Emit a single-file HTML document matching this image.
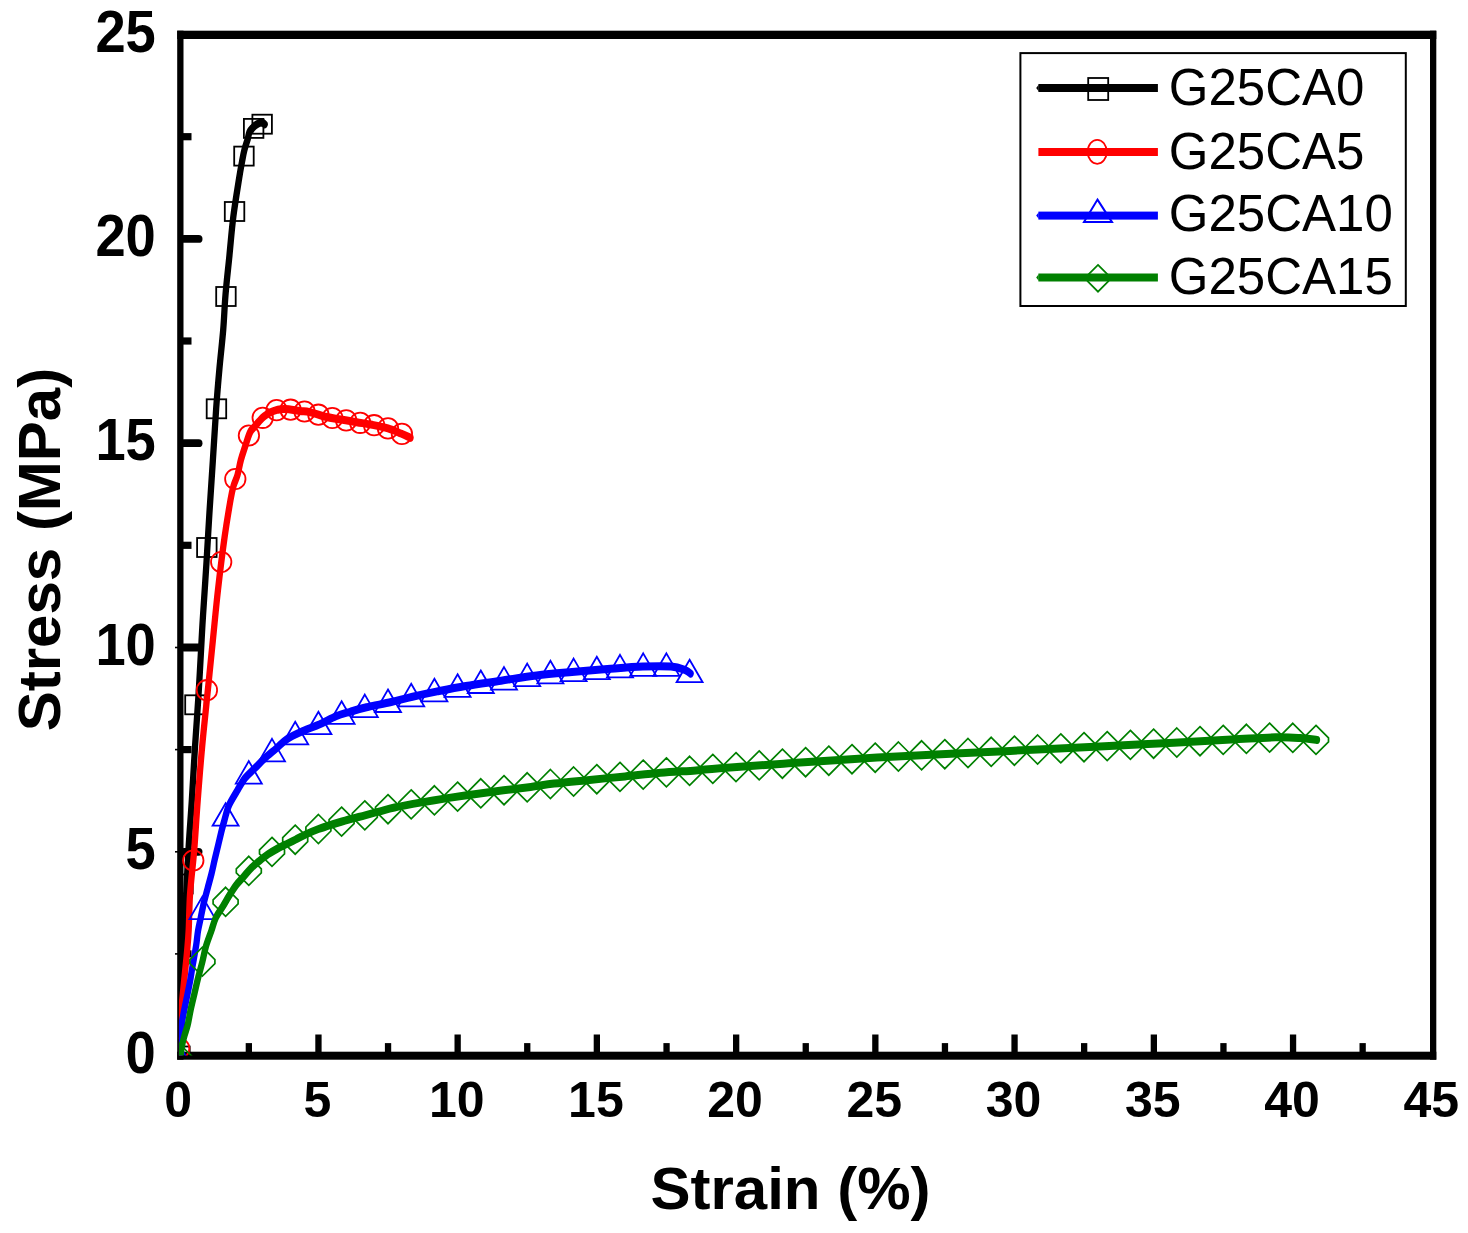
<!DOCTYPE html>
<html><head><meta charset="utf-8"><style>
html,body{margin:0;padding:0;background:#fff;width:1468px;height:1233px;overflow:hidden}
svg{display:block}
text{font-family:"Liberation Sans",sans-serif}
</style></head><body>
<svg width="1468" height="1233" viewBox="0 0 1468 1233">
<rect width="1468" height="1233" fill="#fff"/>
<defs><clipPath id="pc"><rect x="178.9" y="35" width="1254" height="1020.5"/></clipPath></defs>

<rect x="177.2" y="30.7" width="6.3" height="1029.0" fill="#000"/>
<rect x="1430.0" y="30.7" width="6.3" height="1029.0" fill="#000"/>
<rect x="177.2" y="30.7" width="1259.1" height="8.3" fill="#000"/>
<rect x="177.2" y="1051.7" width="1259.1" height="8" fill="#000"/>
<rect x="183" y="950.3" width="8.5" height="7.2" fill="#000"/>
<rect x="175" y="953.1" width="3" height="1.6" fill="#000"/>
<line x1="184" y1="851.8" x2="198.6" y2="851.8" stroke="#000" stroke-width="7.8" stroke-linecap="round"/>
<rect x="175" y="851.0" width="3" height="1.6" fill="#000"/>
<rect x="183" y="746.0" width="8.5" height="7.2" fill="#000"/>
<rect x="175" y="748.8" width="3" height="1.6" fill="#000"/>
<line x1="184" y1="647.5" x2="198.6" y2="647.5" stroke="#000" stroke-width="7.8" stroke-linecap="round"/>
<rect x="175" y="646.7" width="3" height="1.6" fill="#000"/>
<rect x="183" y="541.7" width="8.5" height="7.2" fill="#000"/>
<line x1="184" y1="443.2" x2="198.6" y2="443.2" stroke="#000" stroke-width="7.8" stroke-linecap="round"/>
<rect x="183" y="337.4" width="8.5" height="7.2" fill="#000"/>
<line x1="184" y1="238.9" x2="198.6" y2="238.9" stroke="#000" stroke-width="7.8" stroke-linecap="round"/>
<rect x="183" y="133.1" width="8.5" height="7.2" fill="#000"/>
<rect x="245.7" y="1043.1" width="6.3" height="9.6" fill="#000"/>
<rect x="315.3" y="1034.5" width="6.3" height="18.2" fill="#000"/>
<rect x="384.9" y="1043.1" width="6.3" height="9.6" fill="#000"/>
<rect x="454.5" y="1034.5" width="6.3" height="18.2" fill="#000"/>
<rect x="524.1" y="1043.1" width="6.3" height="9.6" fill="#000"/>
<rect x="593.7" y="1034.5" width="6.3" height="18.2" fill="#000"/>
<rect x="663.4" y="1043.1" width="6.3" height="9.6" fill="#000"/>
<rect x="733.0" y="1034.5" width="6.3" height="18.2" fill="#000"/>
<rect x="802.6" y="1043.1" width="6.3" height="9.6" fill="#000"/>
<rect x="872.2" y="1034.5" width="6.3" height="18.2" fill="#000"/>
<rect x="941.8" y="1043.1" width="6.3" height="9.6" fill="#000"/>
<rect x="1011.4" y="1034.5" width="6.3" height="18.2" fill="#000"/>
<rect x="1081.0" y="1043.1" width="6.3" height="9.6" fill="#000"/>
<rect x="1150.7" y="1034.5" width="6.3" height="18.2" fill="#000"/>
<rect x="1220.3" y="1043.1" width="6.3" height="9.6" fill="#000"/>
<rect x="1289.9" y="1034.5" width="6.3" height="18.2" fill="#000"/>
<rect x="1359.5" y="1043.1" width="6.3" height="9.6" fill="#000"/>
<text transform="translate(155.8,1073.2) scale(0.97,1.058)" font-size="56" font-weight="bold" text-anchor="end">0</text>
<text transform="translate(155.8,868.9) scale(0.97,1.058)" font-size="56" font-weight="bold" text-anchor="end">5</text>
<text transform="translate(155.8,664.6) scale(0.97,1.058)" font-size="56" font-weight="bold" text-anchor="end">10</text>
<text transform="translate(155.8,460.3) scale(0.97,1.058)" font-size="56" font-weight="bold" text-anchor="end">15</text>
<text transform="translate(155.8,256.0) scale(0.97,1.058)" font-size="56" font-weight="bold" text-anchor="end">20</text>
<text transform="translate(155.8,51.7) scale(0.97,1.058)" font-size="56" font-weight="bold" text-anchor="end">25</text>
<text x="178.2" y="1117" font-size="50" font-weight="bold" text-anchor="middle">0</text>
<text x="317.4" y="1117" font-size="50" font-weight="bold" text-anchor="middle">5</text>
<text x="456.7" y="1117" font-size="50" font-weight="bold" text-anchor="middle">10</text>
<text x="595.9" y="1117" font-size="50" font-weight="bold" text-anchor="middle">15</text>
<text x="735.1" y="1117" font-size="50" font-weight="bold" text-anchor="middle">20</text>
<text x="874.3" y="1117" font-size="50" font-weight="bold" text-anchor="middle">25</text>
<text x="1013.6" y="1117" font-size="50" font-weight="bold" text-anchor="middle">30</text>
<text x="1152.8" y="1117" font-size="50" font-weight="bold" text-anchor="middle">35</text>
<text x="1292.0" y="1117" font-size="50" font-weight="bold" text-anchor="middle">40</text>
<text x="1431.3" y="1117" font-size="50" font-weight="bold" text-anchor="middle">45</text>
<text x="790.5" y="1209" font-size="60" font-weight="bold" text-anchor="middle">Strain (%)</text>
<text transform="translate(60,549.5) rotate(-90)" x="0" y="0" font-size="60" font-weight="bold" text-anchor="middle">Stress (MPa)</text>
<g clip-path="url(#pc)">
<g transform="scale(1,1.26984)"><path d="M180.00,831.60 C180.50,824.25 182.00,807.98 183.00,787.50 C184.00,767.02 185.04,729.04 186.00,708.75 C186.96,688.46 187.78,678.79 188.75,665.75 C189.72,652.72 190.76,643.47 191.80,630.55 C192.84,617.64 193.87,602.32 195.00,588.26 C196.13,574.21 197.50,560.25 198.60,546.21 C199.70,532.17 200.87,514.22 201.60,504.00 C202.33,493.78 202.20,494.87 203.00,484.86 C203.80,474.86 205.32,457.63 206.40,443.99 C207.48,430.36 208.42,416.68 209.50,403.04 C210.58,389.41 211.78,375.79 212.90,362.17 C214.02,348.55 215.12,333.23 216.20,321.30 C217.28,309.37 218.23,300.83 219.40,290.59 C220.57,280.35 222.18,269.61 223.20,259.88 C224.22,250.14 224.47,241.88 225.50,232.16 C226.53,222.43 228.10,211.75 229.40,201.52 C230.70,191.30 231.67,181.05 233.30,170.81 C234.93,160.57 237.75,147.33 239.20,140.10 C240.65,132.86 241.15,131.03 242.00,127.42 C242.85,123.81 243.35,121.42 244.30,118.44 C245.25,115.46 246.85,111.93 247.70,109.54 C248.55,107.15 248.55,105.60 249.40,104.11 C250.25,102.61 251.57,101.60 252.80,100.56 C254.03,99.53 255.28,98.56 256.80,97.89 C258.32,97.22 260.58,96.55 261.90,96.55 C263.22,96.55 264.23,97.66 264.70,97.89" fill="none" stroke="#000" stroke-width="6.3" stroke-linejoin="round" stroke-linecap="round"/></g>
<rect x="252.4" y="114.7" width="19.5" height="19" fill="none" stroke="#000" stroke-width="1.8"/>
<rect x="243.9" y="118.9" width="19.5" height="19" fill="none" stroke="#000" stroke-width="1.8"/>
<rect x="234.2" y="146.6" width="19.5" height="19" fill="none" stroke="#000" stroke-width="1.8"/>
<rect x="224.8" y="202.0" width="19.5" height="19" fill="none" stroke="#000" stroke-width="1.8"/>
<rect x="216.2" y="287.0" width="19.5" height="19" fill="none" stroke="#000" stroke-width="1.8"/>
<rect x="206.7" y="399.3" width="19.5" height="19" fill="none" stroke="#000" stroke-width="1.8"/>
<rect x="197.1" y="538.0" width="19.5" height="19" fill="none" stroke="#000" stroke-width="1.8"/>
<rect x="185.2" y="695.3" width="19.5" height="19" fill="none" stroke="#000" stroke-width="1.8"/>
<rect x="173.2" y="874.5" width="19.5" height="19" fill="none" stroke="#000" stroke-width="1.8"/>
<rect x="170.2" y="1046.5" width="19.5" height="19" fill="none" stroke="#000" stroke-width="1.8"/>
<g transform="scale(1,1.26984)"><path d="M179.00,833.18 C179.12,828.83 179.32,813.53 179.70,807.11 C180.08,800.69 180.68,799.51 181.30,794.67 C181.92,789.82 182.78,782.89 183.40,778.05 C184.02,773.21 184.38,770.45 185.00,765.61 C185.62,760.76 186.48,754.53 187.10,748.99 C187.72,743.45 188.22,739.76 188.70,732.38 C189.18,724.99 189.23,713.84 190.00,704.65 C190.77,695.47 192.53,683.73 193.30,677.25 C194.07,670.77 193.87,673.54 194.60,665.75 C195.33,657.97 196.45,643.47 197.70,630.55 C198.95,617.64 200.47,602.32 202.10,588.26 C203.73,574.21 205.70,560.25 207.50,546.21 C209.30,532.17 211.15,517.64 212.90,504.00 C214.65,490.36 216.07,477.80 218.00,464.39 C219.93,450.98 222.42,435.29 224.50,423.52 C226.58,411.74 229.00,400.55 230.50,393.75 C232.00,386.95 232.33,386.01 233.50,382.73 C234.67,379.44 236.27,377.49 237.50,374.06 C238.73,370.64 239.65,365.86 240.90,362.17 C242.15,358.48 243.50,355.52 245.00,351.93 C246.50,348.35 248.33,343.31 249.90,340.67 C251.47,338.03 252.90,337.55 254.40,336.11 C255.90,334.66 257.28,333.38 258.90,332.01 C260.52,330.65 262.25,329.11 264.10,327.92 C265.95,326.72 267.83,325.70 270.00,324.84 C272.17,323.99 274.62,323.26 277.10,322.80 C279.58,322.34 281.08,321.96 284.90,322.09 C288.72,322.22 295.87,323.18 300.00,323.58 C304.13,323.99 305.48,323.75 309.70,324.53 C313.92,325.30 320.08,327.26 325.30,328.23 C330.52,329.20 335.77,329.65 341.00,330.36 C346.23,331.07 351.48,331.79 356.70,332.48 C361.92,333.18 367.08,333.72 372.30,334.53 C377.52,335.34 383.22,336.22 388.00,337.37 C392.78,338.51 397.25,340.15 401.00,341.38 C404.75,342.62 408.92,344.20 410.50,344.77" fill="none" stroke="#f00" stroke-width="6.3" stroke-linejoin="round" stroke-linecap="round"/></g>
<ellipse cx="179.2" cy="1048.5" rx="10.2" ry="10.2" fill="none" stroke="#f00" stroke-width="1.8"/>
<ellipse cx="193.3" cy="860.5" rx="10.2" ry="10.2" fill="none" stroke="#f00" stroke-width="1.8"/>
<ellipse cx="206.9" cy="690.2" rx="10.2" ry="10.2" fill="none" stroke="#f00" stroke-width="1.8"/>
<ellipse cx="221.2" cy="562.0" rx="10.2" ry="10.2" fill="none" stroke="#f00" stroke-width="1.8"/>
<ellipse cx="235.3" cy="479.0" rx="10.2" ry="10.2" fill="none" stroke="#f00" stroke-width="1.8"/>
<ellipse cx="248.9" cy="435.5" rx="10.2" ry="10.2" fill="none" stroke="#f00" stroke-width="1.8"/>
<ellipse cx="262.7" cy="417.8" rx="10.2" ry="10.2" fill="none" stroke="#f00" stroke-width="1.8"/>
<ellipse cx="276.6" cy="410.1" rx="10.2" ry="10.2" fill="none" stroke="#f00" stroke-width="1.8"/>
<ellipse cx="290.6" cy="409.7" rx="10.2" ry="10.2" fill="none" stroke="#f00" stroke-width="1.8"/>
<ellipse cx="304.5" cy="411.5" rx="10.2" ry="10.2" fill="none" stroke="#f00" stroke-width="1.8"/>
<ellipse cx="318.4" cy="414.7" rx="10.2" ry="10.2" fill="none" stroke="#f00" stroke-width="1.8"/>
<ellipse cx="332.3" cy="418.0" rx="10.2" ry="10.2" fill="none" stroke="#f00" stroke-width="1.8"/>
<ellipse cx="346.2" cy="420.4" rx="10.2" ry="10.2" fill="none" stroke="#f00" stroke-width="1.8"/>
<ellipse cx="360.2" cy="422.8" rx="10.2" ry="10.2" fill="none" stroke="#f00" stroke-width="1.8"/>
<ellipse cx="374.1" cy="425.2" rx="10.2" ry="10.2" fill="none" stroke="#f00" stroke-width="1.8"/>
<ellipse cx="388.0" cy="428.4" rx="10.2" ry="10.2" fill="none" stroke="#f00" stroke-width="1.8"/>
<ellipse cx="401.9" cy="433.9" rx="10.2" ry="10.2" fill="none" stroke="#f00" stroke-width="1.8"/>
<g transform="scale(1,1.26984)"><path d="M179.50,833.18 C179.72,829.53 180.15,817.00 180.80,811.28 C181.45,805.56 182.43,802.99 183.40,798.84 C184.37,794.69 185.53,790.56 186.60,786.40 C187.67,782.24 188.83,778.04 189.80,773.88 C190.77,769.72 191.35,766.28 192.40,761.43 C193.45,756.59 195.17,749.53 196.10,744.82 C197.03,740.11 197.22,736.88 198.00,733.16 C198.78,729.45 199.83,726.21 200.80,722.53 C201.77,718.86 202.67,714.93 203.80,711.11 C204.93,707.29 206.32,703.45 207.60,699.62 C208.88,695.78 210.30,691.95 211.50,688.12 C212.70,684.28 213.67,680.45 214.80,676.62 C215.93,672.79 217.13,668.96 218.30,665.12 C219.47,661.29 220.77,656.85 221.80,653.62 C222.83,650.40 223.32,648.97 224.50,645.75 C225.68,642.53 226.80,638.15 228.90,634.33 C231.00,630.51 234.38,626.46 237.10,622.83 C239.82,619.21 242.23,615.58 245.20,612.60 C248.17,609.62 251.67,607.52 254.90,604.96 C258.13,602.40 261.08,599.80 264.60,597.24 C268.12,594.68 272.20,592.16 276.00,589.60 C279.80,587.04 282.80,584.23 287.40,581.88 C292.00,579.53 298.20,577.42 303.60,575.50 C309.00,573.59 314.40,572.29 319.80,570.39 C325.20,568.48 330.97,565.73 336.00,564.09 C341.03,562.45 344.92,561.72 350.00,560.54 C355.08,559.36 359.62,558.28 366.50,557.00 C373.38,555.71 383.63,554.22 391.30,552.83 C398.97,551.43 404.83,550.04 412.50,548.65 C420.17,547.26 428.43,545.88 437.30,544.48 C446.17,543.07 455.07,541.63 465.70,540.23 C476.33,538.82 489.30,537.44 501.10,536.05 C512.90,534.66 524.68,533.03 536.50,531.88 C548.32,530.72 560.18,529.96 572.00,529.12 C583.82,528.28 595.60,527.53 607.40,526.84 C619.20,526.14 632.18,525.26 642.80,524.95 C653.42,524.63 664.02,524.49 671.10,524.95 C678.18,525.41 682.05,526.78 685.30,527.70 C688.55,528.62 689.72,530.00 690.60,530.46" fill="none" stroke="#00f" stroke-width="6.3" stroke-linejoin="round" stroke-linecap="round"/></g>
<path d="M179.2,1044.8 L192.2,1067.3 L166.2,1067.3 Z" fill="none" stroke="#00f" stroke-width="1.8" stroke-linejoin="miter"/>
<path d="M202.4,896.6 L215.4,919.1 L189.4,919.1 Z" fill="none" stroke="#00f" stroke-width="1.8" stroke-linejoin="miter"/>
<path d="M225.6,803.2 L238.6,825.7 L212.6,825.7 Z" fill="none" stroke="#00f" stroke-width="1.8" stroke-linejoin="miter"/>
<path d="M248.8,761.1 L261.8,783.6 L235.8,783.6 Z" fill="none" stroke="#00f" stroke-width="1.8" stroke-linejoin="miter"/>
<path d="M272.0,738.9 L285.0,761.4 L259.0,761.4 Z" fill="none" stroke="#00f" stroke-width="1.8" stroke-linejoin="miter"/>
<path d="M295.2,721.8 L308.2,744.3 L282.2,744.3 Z" fill="none" stroke="#00f" stroke-width="1.8" stroke-linejoin="miter"/>
<path d="M318.4,711.7 L331.4,734.2 L305.4,734.2 Z" fill="none" stroke="#00f" stroke-width="1.8" stroke-linejoin="miter"/>
<path d="M341.6,701.3 L354.6,723.8 L328.6,723.8 Z" fill="none" stroke="#00f" stroke-width="1.8" stroke-linejoin="miter"/>
<path d="M364.8,694.6 L377.8,717.1 L351.8,717.1 Z" fill="none" stroke="#00f" stroke-width="1.8" stroke-linejoin="miter"/>
<path d="M388.0,689.5 L401.0,712.0 L375.0,712.0 Z" fill="none" stroke="#00f" stroke-width="1.8" stroke-linejoin="miter"/>
<path d="M411.2,683.8 L424.2,706.3 L398.2,706.3 Z" fill="none" stroke="#00f" stroke-width="1.8" stroke-linejoin="miter"/>
<path d="M434.4,678.8 L447.4,701.3 L421.4,701.3 Z" fill="none" stroke="#00f" stroke-width="1.8" stroke-linejoin="miter"/>
<path d="M457.6,674.3 L470.6,696.8 L444.6,696.8 Z" fill="none" stroke="#00f" stroke-width="1.8" stroke-linejoin="miter"/>
<path d="M480.8,670.5 L493.8,693.0 L467.8,693.0 Z" fill="none" stroke="#00f" stroke-width="1.8" stroke-linejoin="miter"/>
<path d="M504.0,667.1 L517.0,689.6 L491.0,689.6 Z" fill="none" stroke="#00f" stroke-width="1.8" stroke-linejoin="miter"/>
<path d="M527.2,663.6 L540.2,686.1 L514.2,686.1 Z" fill="none" stroke="#00f" stroke-width="1.8" stroke-linejoin="miter"/>
<path d="M550.4,660.8 L563.4,683.3 L537.4,683.3 Z" fill="none" stroke="#00f" stroke-width="1.8" stroke-linejoin="miter"/>
<path d="M573.6,658.6 L586.6,681.1 L560.6,681.1 Z" fill="none" stroke="#00f" stroke-width="1.8" stroke-linejoin="miter"/>
<path d="M596.8,656.7 L609.8,679.2 L583.8,679.2 Z" fill="none" stroke="#00f" stroke-width="1.8" stroke-linejoin="miter"/>
<path d="M620.0,654.9 L633.0,677.4 L607.0,677.4 Z" fill="none" stroke="#00f" stroke-width="1.8" stroke-linejoin="miter"/>
<path d="M643.2,653.4 L656.2,675.9 L630.2,675.9 Z" fill="none" stroke="#00f" stroke-width="1.8" stroke-linejoin="miter"/>
<path d="M666.4,653.4 L679.4,675.9 L653.4,675.9 Z" fill="none" stroke="#00f" stroke-width="1.8" stroke-linejoin="miter"/>
<path d="M689.6,659.7 L702.6,682.2 L676.6,682.2 Z" fill="none" stroke="#00f" stroke-width="1.8" stroke-linejoin="miter"/>
<g transform="scale(1,1.26984)"><path d="M180.30,833.18 C180.38,832.72 180.53,831.99 180.80,830.42 C181.07,828.84 181.28,826.22 181.90,823.73 C182.52,821.23 183.53,818.23 184.50,815.46 C185.47,812.69 186.65,810.57 187.70,807.11 C188.75,803.64 189.67,798.81 190.80,794.67 C191.93,790.52 193.27,786.37 194.50,782.22 C195.73,778.08 196.88,773.94 198.20,769.78 C199.52,765.62 201.10,761.37 202.40,757.26 C203.70,753.15 204.52,749.15 206.00,745.13 C207.48,741.12 209.65,736.93 211.30,733.16 C212.95,729.40 213.92,725.83 215.90,722.53 C217.88,719.24 221.02,716.21 223.20,713.40 C225.38,710.59 226.88,708.37 229.00,705.68 C231.12,702.99 233.47,699.80 235.90,697.25 C238.33,694.71 241.02,692.70 243.60,690.40 C246.18,688.10 248.80,685.52 251.40,683.47 C254.00,681.42 256.43,679.90 259.20,678.12 C261.97,676.33 264.92,674.41 268.00,672.76 C271.08,671.11 274.47,669.60 277.70,668.19 C280.93,666.79 284.43,665.50 287.40,664.34 C290.37,663.17 292.80,662.25 295.50,661.19 C298.20,660.12 299.77,659.35 303.60,657.96 C307.43,656.57 312.10,654.68 318.50,652.84 C324.90,651.00 334.25,648.73 342.00,646.93 C349.75,645.13 358.67,643.39 365.00,642.05 C371.33,640.71 375.08,639.92 380.00,638.90 C384.92,637.88 387.55,637.07 394.50,635.91 C401.45,634.74 412.62,633.15 421.70,631.89 C430.78,630.63 439.92,629.46 449.00,628.35 C458.08,627.23 467.12,626.19 476.20,625.20 C485.28,624.20 494.42,623.28 503.50,622.36 C512.58,621.44 522.25,620.58 530.70,619.68 C539.15,618.79 544.38,617.93 554.20,617.01 C564.02,616.09 577.78,615.10 589.60,614.17 C601.42,613.24 613.28,612.35 625.10,611.41 C636.92,610.48 648.70,609.37 660.50,608.58 C672.30,607.79 685.98,607.29 695.90,606.69 C705.82,606.09 704.55,605.89 720.00,604.96 C735.45,604.03 762.42,602.49 788.60,601.10 C814.78,599.71 847.58,597.95 877.10,596.61 C906.62,595.27 936.18,594.23 965.70,593.07 C995.22,591.90 1024.68,590.76 1054.20,589.60 C1083.72,588.45 1113.28,587.34 1142.80,586.14 C1172.32,584.93 1209.17,583.28 1231.30,582.36 C1253.43,581.44 1264.15,580.82 1275.60,580.62 C1287.05,580.43 1293.10,580.82 1300.00,581.18 C1306.90,581.53 1314.17,582.49 1317.00,582.75" fill="none" stroke="#008000" stroke-width="6.3" stroke-linejoin="round" stroke-linecap="round"/></g>
<path d="M179.2,1043.5 L191.7,1056.0 L191.7,1060.0 L179.2,1072.5 L166.7,1060.0 L166.7,1056.0 Z" fill="none" stroke="#008000" stroke-width="1.7"/>
<path d="M202.4,947.1 L214.9,959.6 L214.9,963.6 L202.4,976.1 L189.9,963.6 L189.9,959.6 Z" fill="none" stroke="#008000" stroke-width="1.7"/>
<path d="M225.6,887.3 L238.1,899.8 L238.1,903.8 L225.6,916.3 L213.1,903.8 L213.1,899.8 Z" fill="none" stroke="#008000" stroke-width="1.7"/>
<path d="M248.8,856.3 L261.3,868.8 L261.3,872.8 L248.8,885.3 L236.3,872.8 L236.3,868.8 Z" fill="none" stroke="#008000" stroke-width="1.7"/>
<path d="M272.0,837.4 L284.5,849.9 L284.5,853.9 L272.0,866.4 L259.5,853.9 L259.5,849.9 Z" fill="none" stroke="#008000" stroke-width="1.7"/>
<path d="M295.2,825.2 L307.7,837.7 L307.7,841.7 L295.2,854.2 L282.7,841.7 L282.7,837.7 Z" fill="none" stroke="#008000" stroke-width="1.7"/>
<path d="M318.4,814.5 L330.9,827.0 L330.9,831.0 L318.4,843.5 L305.9,831.0 L305.9,827.0 Z" fill="none" stroke="#008000" stroke-width="1.7"/>
<path d="M341.6,807.1 L354.1,819.6 L354.1,823.6 L341.6,836.1 L329.1,823.6 L329.1,819.6 Z" fill="none" stroke="#008000" stroke-width="1.7"/>
<path d="M364.8,800.9 L377.3,813.4 L377.3,817.4 L364.8,829.9 L352.3,817.4 L352.3,813.4 Z" fill="none" stroke="#008000" stroke-width="1.7"/>
<path d="M388.0,794.7 L400.5,807.2 L400.5,811.2 L388.0,823.7 L375.5,811.2 L375.5,807.2 Z" fill="none" stroke="#008000" stroke-width="1.7"/>
<path d="M411.2,789.9 L423.7,802.4 L423.7,806.4 L411.2,818.9 L398.7,806.4 L398.7,802.4 Z" fill="none" stroke="#008000" stroke-width="1.7"/>
<path d="M434.4,785.8 L446.9,798.3 L446.9,802.3 L434.4,814.8 L421.9,802.3 L421.9,798.3 Z" fill="none" stroke="#008000" stroke-width="1.7"/>
<path d="M457.6,782.1 L470.1,794.6 L470.1,798.6 L457.6,811.1 L445.1,798.6 L445.1,794.6 Z" fill="none" stroke="#008000" stroke-width="1.7"/>
<path d="M480.8,778.8 L493.3,791.3 L493.3,795.3 L480.8,807.8 L468.3,795.3 L468.3,791.3 Z" fill="none" stroke="#008000" stroke-width="1.7"/>
<path d="M504.0,775.7 L516.5,788.2 L516.5,792.2 L504.0,804.7 L491.5,792.2 L491.5,788.2 Z" fill="none" stroke="#008000" stroke-width="1.7"/>
<path d="M527.2,772.8 L539.7,785.3 L539.7,789.3 L527.2,801.8 L514.7,789.3 L514.7,785.3 Z" fill="none" stroke="#008000" stroke-width="1.7"/>
<path d="M550.4,769.5 L562.9,782.0 L562.9,786.0 L550.4,798.5 L537.9,786.0 L537.9,782.0 Z" fill="none" stroke="#008000" stroke-width="1.7"/>
<path d="M573.6,767.0 L586.1,779.5 L586.1,783.5 L573.6,796.0 L561.1,783.5 L561.1,779.5 Z" fill="none" stroke="#008000" stroke-width="1.7"/>
<path d="M596.8,764.7 L609.3,777.2 L609.3,781.2 L596.8,793.7 L584.3,781.2 L584.3,777.2 Z" fill="none" stroke="#008000" stroke-width="1.7"/>
<path d="M620.0,762.4 L632.5,774.9 L632.5,778.9 L620.0,791.4 L607.5,778.9 L607.5,774.9 Z" fill="none" stroke="#008000" stroke-width="1.7"/>
<path d="M643.2,760.1 L655.7,772.6 L655.7,776.6 L643.2,789.1 L630.7,776.6 L630.7,772.6 Z" fill="none" stroke="#008000" stroke-width="1.7"/>
<path d="M666.4,757.9 L678.9,770.4 L678.9,774.4 L666.4,786.9 L653.9,774.4 L653.9,770.4 Z" fill="none" stroke="#008000" stroke-width="1.7"/>
<path d="M689.6,756.3 L702.1,768.8 L702.1,772.8 L689.6,785.3 L677.1,772.8 L677.1,768.8 Z" fill="none" stroke="#008000" stroke-width="1.7"/>
<path d="M712.8,754.4 L725.3,766.9 L725.3,770.9 L712.8,783.4 L700.3,770.9 L700.3,766.9 Z" fill="none" stroke="#008000" stroke-width="1.7"/>
<path d="M736.0,752.6 L748.5,765.1 L748.5,769.1 L736.0,781.6 L723.5,769.1 L723.5,765.1 Z" fill="none" stroke="#008000" stroke-width="1.7"/>
<path d="M759.2,750.9 L771.7,763.4 L771.7,767.4 L759.2,779.9 L746.7,767.4 L746.7,763.4 Z" fill="none" stroke="#008000" stroke-width="1.7"/>
<path d="M782.4,749.2 L794.9,761.7 L794.9,765.7 L782.4,778.2 L769.9,765.7 L769.9,761.7 Z" fill="none" stroke="#008000" stroke-width="1.7"/>
<path d="M805.6,747.7 L818.1,760.2 L818.1,764.2 L805.6,776.7 L793.1,764.2 L793.1,760.2 Z" fill="none" stroke="#008000" stroke-width="1.7"/>
<path d="M828.8,746.2 L841.3,758.7 L841.3,762.7 L828.8,775.2 L816.3,762.7 L816.3,758.7 Z" fill="none" stroke="#008000" stroke-width="1.7"/>
<path d="M852.0,744.7 L864.5,757.2 L864.5,761.2 L852.0,773.7 L839.5,761.2 L839.5,757.2 Z" fill="none" stroke="#008000" stroke-width="1.7"/>
<path d="M875.2,743.2 L887.7,755.7 L887.7,759.7 L875.2,772.2 L862.7,759.7 L862.7,755.7 Z" fill="none" stroke="#008000" stroke-width="1.7"/>
<path d="M898.4,742.0 L910.9,754.5 L910.9,758.5 L898.4,771.0 L885.9,758.5 L885.9,754.5 Z" fill="none" stroke="#008000" stroke-width="1.7"/>
<path d="M921.6,740.8 L934.1,753.3 L934.1,757.3 L921.6,769.8 L909.1,757.3 L909.1,753.3 Z" fill="none" stroke="#008000" stroke-width="1.7"/>
<path d="M944.8,739.7 L957.3,752.2 L957.3,756.2 L944.8,768.7 L932.3,756.2 L932.3,752.2 Z" fill="none" stroke="#008000" stroke-width="1.7"/>
<path d="M968.0,738.5 L980.5,751.0 L980.5,755.0 L968.0,767.5 L955.5,755.0 L955.5,751.0 Z" fill="none" stroke="#008000" stroke-width="1.7"/>
<path d="M991.2,737.3 L1003.7,749.8 L1003.7,753.8 L991.2,766.3 L978.7,753.8 L978.7,749.8 Z" fill="none" stroke="#008000" stroke-width="1.7"/>
<path d="M1014.4,736.2 L1026.9,748.7 L1026.9,752.7 L1014.4,765.2 L1001.9,752.7 L1001.9,748.7 Z" fill="none" stroke="#008000" stroke-width="1.7"/>
<path d="M1037.6,735.0 L1050.1,747.5 L1050.1,751.5 L1037.6,764.0 L1025.1,751.5 L1025.1,747.5 Z" fill="none" stroke="#008000" stroke-width="1.7"/>
<path d="M1060.8,733.9 L1073.3,746.4 L1073.3,750.4 L1060.8,762.9 L1048.3,750.4 L1048.3,746.4 Z" fill="none" stroke="#008000" stroke-width="1.7"/>
<path d="M1084.0,732.7 L1096.5,745.2 L1096.5,749.2 L1084.0,761.7 L1071.5,749.2 L1071.5,745.2 Z" fill="none" stroke="#008000" stroke-width="1.7"/>
<path d="M1107.2,731.6 L1119.7,744.1 L1119.7,748.1 L1107.2,760.6 L1094.7,748.1 L1094.7,744.1 Z" fill="none" stroke="#008000" stroke-width="1.7"/>
<path d="M1130.4,730.4 L1142.9,742.9 L1142.9,746.9 L1130.4,759.4 L1117.9,746.9 L1117.9,742.9 Z" fill="none" stroke="#008000" stroke-width="1.7"/>
<path d="M1153.6,729.2 L1166.1,741.7 L1166.1,745.7 L1153.6,758.2 L1141.1,745.7 L1141.1,741.7 Z" fill="none" stroke="#008000" stroke-width="1.7"/>
<path d="M1176.8,728.0 L1189.3,740.5 L1189.3,744.5 L1176.8,757.0 L1164.3,744.5 L1164.3,740.5 Z" fill="none" stroke="#008000" stroke-width="1.7"/>
<path d="M1200.0,726.7 L1212.5,739.2 L1212.5,743.2 L1200.0,755.7 L1187.5,743.2 L1187.5,739.2 Z" fill="none" stroke="#008000" stroke-width="1.7"/>
<path d="M1223.2,725.4 L1235.7,737.9 L1235.7,741.9 L1223.2,754.4 L1210.7,741.9 L1210.7,737.9 Z" fill="none" stroke="#008000" stroke-width="1.7"/>
<path d="M1246.4,724.3 L1258.9,736.8 L1258.9,740.8 L1246.4,753.3 L1233.9,740.8 L1233.9,736.8 Z" fill="none" stroke="#008000" stroke-width="1.7"/>
<path d="M1269.6,723.1 L1282.1,735.6 L1282.1,739.6 L1269.6,752.1 L1257.1,739.6 L1257.1,735.6 Z" fill="none" stroke="#008000" stroke-width="1.7"/>
<path d="M1292.8,723.3 L1305.3,735.8 L1305.3,739.8 L1292.8,752.3 L1280.3,739.8 L1280.3,735.8 Z" fill="none" stroke="#008000" stroke-width="1.7"/>
<path d="M1316.0,725.4 L1328.5,737.9 L1328.5,741.9 L1316.0,754.4 L1303.5,741.9 L1303.5,737.9 Z" fill="none" stroke="#008000" stroke-width="1.7"/>
</g>
<rect x="1020.4" y="53.1" width="385.4" height="252.9" fill="none" stroke="#000" stroke-width="2"/>
<rect x="1038.4" y="84.0" width="119.5" height="8" fill="#000"/>
<path d="M1038.6,84.8 L1036.2,88.0 L1038.6,91.2 Z" fill="#000"/>
<rect x="1088.2" y="78.0" width="20" height="22" fill="none" stroke="#000" stroke-width="1.8"/>
<text x="1168.8" y="104.8" font-size="51" fill="#000">G25CA0</text>
<rect x="1038.4" y="148.0" width="119.5" height="8" fill="#f00"/>
<ellipse cx="1097.2" cy="151.8" rx="9.5" ry="12" fill="none" stroke="#f00" stroke-width="1.8"/>
<text x="1168.8" y="168.5" font-size="51" fill="#000">G25CA5</text>
<rect x="1038.4" y="211.6" width="119.5" height="8" fill="#00f"/>
<path d="M1038.6,212.4 L1036.2,215.6 L1038.6,218.8 Z" fill="#00f"/>
<path d="M1097.5,199.6 L1112,222.1 L1084,222.1 Z" fill="none" stroke="#00f" stroke-width="2"/>
<text x="1168.8" y="230.6" font-size="51" fill="#000">G25CA10</text>
<rect x="1038.4" y="273.5" width="119.5" height="8" fill="#008000"/>
<path d="M1038.6,274.3 L1036.2,277.5 L1038.6,280.7 Z" fill="#008000"/>
<path d="M1098.0,264.9 L1108.5,275.4 L1108.5,281.2 L1098.0,291.7 L1087.5,281.2 L1087.5,275.4 Z" fill="none" stroke="#008000" stroke-width="1.7"/>
<text x="1168.8" y="294.2" font-size="51" fill="#000">G25CA15</text>
</svg></body></html>
